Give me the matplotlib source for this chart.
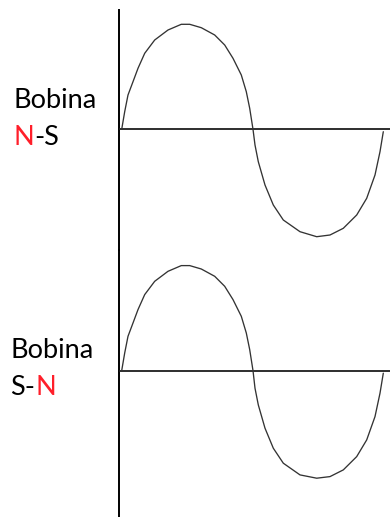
import matplotlib
matplotlib.use("Agg")
import matplotlib.pyplot as plt

# Wave samples (time units, amplitude units)
t_ns = [0, 3, 6.3, 11.3, 16.3, 23, 33, 46.3, 59.6, 68, 79.6, 93, 103, 111.3, 119.6,
        124.6, 128, 131.3, 133.3, 136.6, 143.3, 151.6, 161.6, 178.3, 195, 208.3,
        221.6, 235, 245, 253.3, 258.3, 261.6]
v_ns = [0, 17.6, 34.3, 47.6, 61, 76, 89.3, 99.3, 105, 105, 101.6, 94.3, 84.3, 71, 54.3,
        37.6, 21, 0, -15.7, -32.4, -55.7, -75.7, -90.7, -102.4, -107.4, -105.7,
        -99, -85.7, -69, -45.7, -22.4, -2.4]
t_sn = [0, 3, 6.3, 11.3, 16.3, 23, 33, 46.3, 59.6, 68, 79.6, 93, 103, 111.3, 119.6,
        124.6, 128, 131.3, 133.3, 136.6, 143.3, 151.6, 161.6, 178.3, 195, 208.3,
        221.6, 235, 245, 253.3, 258.3, 261.6]
v_sn = [0, 17.6, 34.3, 47.6, 61, 76, 89.3, 99.3, 105, 105, 101.6, 94.3, 84.3, 71, 54.3,
        37.6, 21, 0, -17.6, -34.3, -57.6, -77.6, -92.6, -104.3, -107.6, -106,
        -99.3, -86, -69.3, -46, -22.6, -2.6]

label_top = "Bobina"
pair_ns = ["N", "-S"]
pair_sn = ["S-", "N"]

W, H = 390, 517
fig = plt.figure(figsize=(W / 100, H / 100), dpi=100)
fig.patch.set_facecolor("white")

def px_axes(x0, y0, x1, y1):
    return fig.add_axes([x0 / W, 1 - y1 / H, (x1 - x0) / W, (y1 - y0) / H])

ax1 = px_axes(119, 9.5, 390, 250)
ax2 = px_axes(119, 250, 390, 517)

for ax, t, v, zero_px, top_px, bot_px in [
    (ax1, t_ns, v_ns, 129.3, 9.5, 250),
    (ax2, t_sn, v_sn, 370.6, 250, 517),
]:
    ax.set_xlim(-2.7, 268.3)
    ax.set_ylim(-(bot_px - zero_px), zero_px - top_px)
    ax.axis("off")
    ax.axvline(-2.7, color="black", lw=1.4, clip_on=False)
    ax.axhline(0, xmin=0.005, xmax=1, color="#1e1e1e", lw=1.3)
    ax.plot(t, v, color="#333333", lw=0.95, solid_joinstyle="round",
            solid_capstyle="round")

font = dict(family=["Lato", "DejaVu Sans"], fontsize=19.5)

def colored_line(x_px, base_px, parts, colors):
    prev = fig.text(x_px / W, 1 - base_px / H, parts[0], color=colors[0],
                    va="baseline", ha="left", **font)
    for p, c in zip(parts[1:], colors[1:]):
        prev = plt.annotate(p, xy=(1, 0), xycoords=prev, va="bottom", ha="left",
                            color=c, annotation_clip=False, **font)
    return prev

red = "#ff1f2a"
fig.text(14 / W, 1 - 108.3 / H, label_top, va="baseline", ha="left", color="black", **font)
colored_line(14, 145, pair_ns, [red, "black"])
fig.text(10.5 / W, 1 - 358.3 / H, label_top, va="baseline", ha="left", color="black", **font)
colored_line(10.5, 395, pair_sn, ["black", red])

fig.savefig("out.png", dpi=100, facecolor="white")
